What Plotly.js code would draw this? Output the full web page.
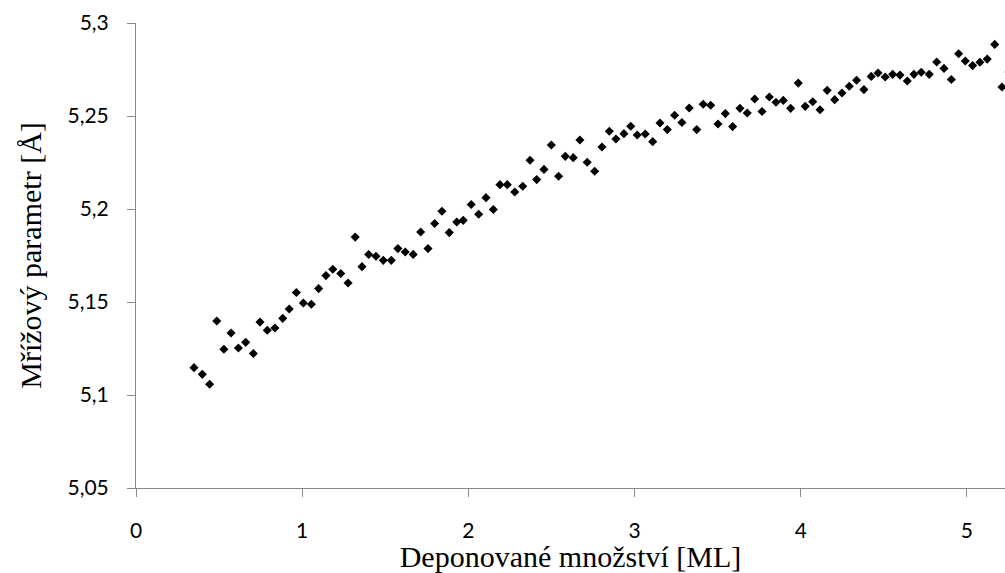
<!DOCTYPE html>
<html>
<head>
<meta charset="utf-8">
<script src="https://cdn.plot.ly/plotly-3.0.1.min.js"></script>
<style>html,body{margin:0;padding:0;background:#fff;}#chart{width:1005px;height:573px;}</style>
</head>
<body>
<div id="chart"></div>
<script>
var depositedML = [
0.349,0.399,0.443,0.486,0.529,0.572,0.616,0.660,0.706,0.746,
0.790,0.836,0.883,0.922,0.965,1.007,1.055,1.099,1.143,1.184,
1.232,1.276,1.319,1.360,1.400,1.444,1.488,1.536,1.576,1.620,
1.668,1.713,1.757,1.797,1.841,1.885,1.930,1.969,2.017,2.062,
2.106,2.150,2.190,2.234,2.279,2.327,2.371,2.411,2.455,2.499,
2.543,2.583,2.631,2.671,2.715,2.760,2.804,2.848,2.888,2.936,
2.977,3.016,3.064,3.109,3.153,3.197,3.241,3.285,3.329,3.374,
3.413,3.458,3.502,3.546,3.590,3.634,3.678,3.723,3.767,3.811,
3.851,3.895,3.939,3.985,4.027,4.072,4.116,4.159,4.204,4.248,
4.292,4.336,4.380,4.424,4.465,4.508,4.553,4.597,4.641,4.681,
4.725,4.773,4.818,4.862,4.906,4.950,4.990,5.034,5.078,5.122,
5.167,5.211,5.253
];
var latticeParam = [
5.1147,5.1111,5.1058,5.1398,5.1246,5.1333,5.1253,5.1283,5.1223,5.1392,
5.1348,5.1360,5.1412,5.1462,5.1551,5.1495,5.1488,5.1572,5.1642,5.1676,
5.1653,5.1602,5.1849,5.1690,5.1755,5.1746,5.1724,5.1724,5.1787,5.1769,
5.1756,5.1876,5.1787,5.1922,5.1988,5.1873,5.1930,5.1939,5.2024,5.1972,
5.2061,5.1997,5.2131,5.2131,5.2091,5.2122,5.2262,5.2158,5.2213,5.2344,
5.2176,5.2283,5.2276,5.2371,5.2251,5.2203,5.2333,5.2418,5.2376,5.2405,
5.2445,5.2398,5.2403,5.2362,5.2462,5.2427,5.2504,5.2465,5.2543,5.2427,
5.2563,5.2558,5.2457,5.2513,5.2443,5.2541,5.2516,5.2591,5.2524,5.2602,
5.2574,5.2584,5.2541,5.2677,5.2552,5.2577,5.2534,5.2638,5.2588,5.2624,
5.2660,5.2692,5.2642,5.2713,5.2731,5.2710,5.2724,5.2720,5.2688,5.2724,
5.2735,5.2724,5.2790,5.2756,5.2696,5.2835,5.2796,5.2771,5.2789,5.2806,
5.2885,5.2656,5.2737
];
var xTickVals = [0,1,2,3,4,5];
var xTickText = ['0','1','2','3','4','5'];
var yTickVals = [5.05,5.1,5.15,5.2,5.25,5.3];
var yTickText = ['5,05','5,1','5,15','5,2','5,25','5,3'];

var tickFont = {family: 'Lato, "Open Sans", sans-serif', size: 21, color: '#000'};
var titleFont = {family: '"Liberation Serif", "Times New Roman", serif', size: 30, color: '#000'};

var trace = {
  x: depositedML,
  y: latticeParam,
  type: 'scatter',
  mode: 'markers',
  marker: {symbol: 'diamond', size: 7, color: '#000', line: {width: 0}},
  hoverinfo: 'x+y',
  showlegend: false
};

var layout = {
  width: 1005, height: 573,
  margin: {l: 136, r: 0, t: 23, b: 85, pad: 0},
  paper_bgcolor: '#fff', plot_bgcolor: '#fff',
  showlegend: false,
  xaxis: {
    range: [0, 5.229],
    tickvals: xTickVals, ticktext: xTickText,
    showline: true, linecolor: '#888', linewidth: 1,
    ticks: 'outside', ticklen: 8, tickcolor: '#888', tickwidth: 1,
    showgrid: false, zeroline: false,
    tickfont: tickFont,
    ticklabelstandoff: 16,
    title: {text: 'Deponované množství [ML]', font: titleFont, standoff: 10}
  },
  yaxis: {
    range: [5.05, 5.3],
    tickvals: yTickVals, ticktext: yTickText,
    showline: true, linecolor: '#888', linewidth: 1,
    ticks: 'outside', ticklen: 8, tickcolor: '#888', tickwidth: 1,
    showgrid: false, zeroline: false,
    tickfont: tickFont,
    ticklabelstandoff: 14,
    title: {text: 'Mřížový parametr [Å]', font: titleFont, standoff: 16}
  }
};

Plotly.newPlot('chart', [trace], layout, {displayModeBar: false, staticPlot: true});
</script>
</body>
</html>
